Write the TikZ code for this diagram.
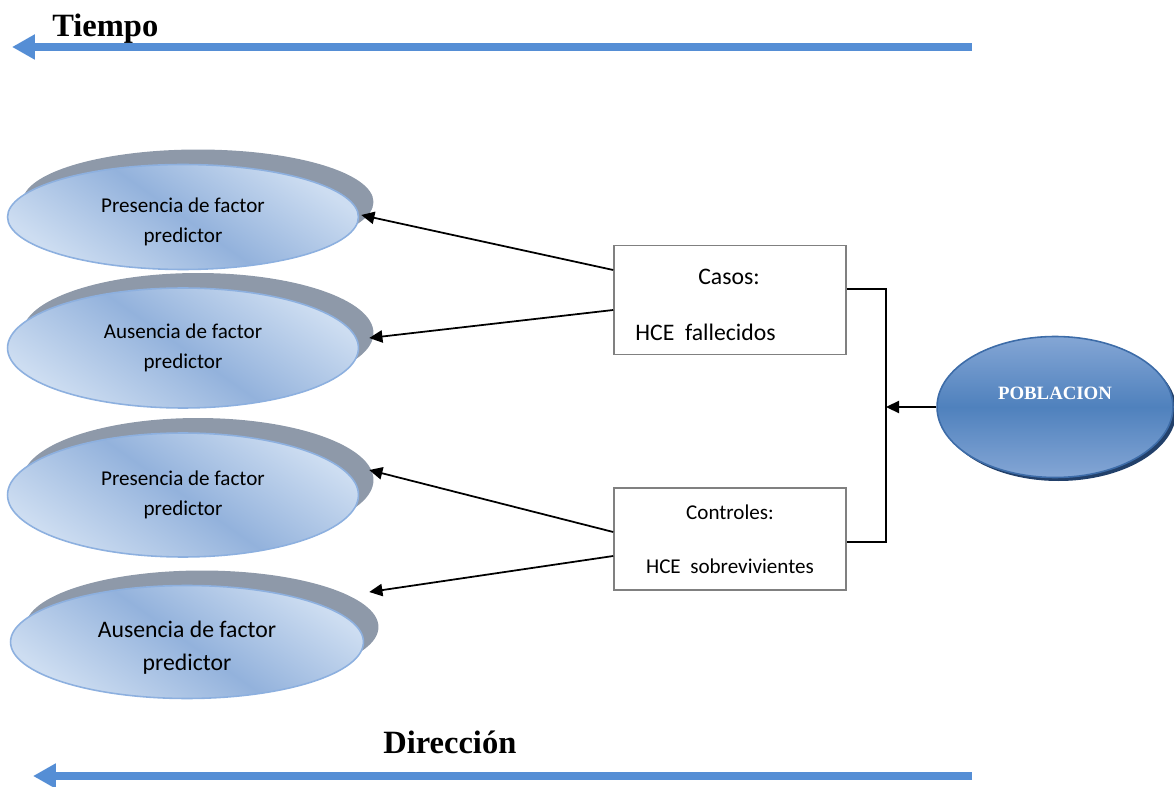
\documentclass[tikz,border=0pt]{standalone}
\usepackage{fontspec}
\setmainfont{Carlito}
\newfontfamily\serifbold{Liberation Serif}
\usepackage{tikz}
\usetikzlibrary{positioning, shapes.geometric, arrows.meta, calc, shadows}

\definecolor{flechaazul}{HTML}{558ED5}
\definecolor{elclaro}{HTML}{CDDDF1}
\definecolor{eloscuro}{HTML}{93B2DC}
\definecolor{elborde}{HTML}{8DB0DF}
\definecolor{sombra}{HTML}{8E99A9}
\definecolor{pobmedio}{HTML}{4F81BD}
\definecolor{pobclaro}{HTML}{84A6D5}
\definecolor{pobborde}{HTML}{3D6CA8}
\definecolor{pobsombra}{HTML}{22406A}

\begin{document}
\begin{tikzpicture}[
  x=0.02cm, y=-0.02cm,
  >={Triangle[length=7.5pt, width=7pt]},
  factor/.style={ellipse, draw=elborde, line width=0.9pt, inner sep=0pt, align=center,
    minimum width=7.02cm, font=\fontsize{12}{17}\selectfont,
    top color=elclaro, bottom color=elclaro, middle color=eloscuro, shading angle=-35,
    general shadow={shadow xshift=0.3cm, shadow yshift=0.3cm, fill=sombra}},
  caja/.style={draw=gray, line width=0.9pt, minimum width=4.64cm, align=center},
  titulo/.style={anchor=base west, inner sep=0pt, font=\serifbold\bfseries\fontsize{18.5}{20}\selectfont},
  tiempo/.style={draw=flechaazul, line width=4pt, -{Triangle[length=13pt, width=13.5pt]}},
  conector/.style={->, line width=1pt}
]
\useasboundingbox (0,0) rectangle (1174,787);

% Time and direction arrows
\coordinate (t1) at (972,47);
\coordinate (t0) at (12,47);
\draw[tiempo] (t1) -- (t0);
\node[titulo] (tiempo) at (52,37) {Tiempo};

\coordinate (d1) at (972,776);
\coordinate (d0) at (33,776);
\draw[tiempo] (d1) -- (d0);
\node[titulo] (direccion) at (383,753) {Dirección};

% Predictor ellipses
\node[factor, minimum height=2.1cm] (e1) at (183,217) {\rule{0pt}{14pt}Presencia de factor\\predictor};
\node[factor, minimum height=2.4cm] (e2) at (183,348) {Ausencia de factor\\predictor};
\node[factor, minimum height=2.48cm] (e3) at (183,495) {Presencia de factor\\predictor};
\node[factor, minimum height=2.26cm, minimum width=7.06cm, font=\fontsize{13.5}{18.7}\selectfont] (e4) at (187,642)
  {\rule{0pt}{16pt}Ausencia de factor\\predictor};

% Cases and controls
\node[caja, minimum height=2.18cm] (casos) at (730,300) {};
\node[font=\fontsize{13.5}{16}\selectfont] (casostit) at (729,277) {Casos:};
\node[anchor=base west, font=\fontsize{13.5}{16}\selectfont, inner sep=0pt] (casostxt) at (635,341) {HCE\ \ fallecidos};
\node[caja, minimum height=2.04cm, font=\fontsize{12}{14}\selectfont] (controles) at (730,539)
  {Controles:\\[17pt]HCE\ \ sobrevivientes};

% Population
\node[ellipse, draw=pobborde, line width=0.9pt, minimum width=4.72cm, minimum height=2.82cm,
  top color=pobclaro, bottom color=pobclaro, middle color=pobmedio,
  general shadow={shadow xshift=2pt, shadow yshift=-2pt, fill=pobsombra}] (pob) at (1055,407) {};
\node[text=white, font=\serifbold\bfseries\fontsize{10.7}{12}\selectfont] (pobtxt) at (1055,393) {POBLACION};

% Connectors
\draw[conector] ($(casos.west)+(0,-30)$) -- ($(e1.east)+(2,-2)$);
\draw[conector] ($(casos.west)+(0,10)$) -- ($(e2.east)+(10,-10)$);
\draw[conector] ($(controles.west)+(0,-7)$) -- ($(e3.east)+(10,-25)$);
\draw[conector] ($(controles.west)+(0,17)$) -- ($(e4.east)+(5,-50)$);

\coordinate (bus) at (886,407);
\draw[line width=1pt] ($(casos.east)+(0,-11)$) -| (bus) |- ($(controles.east)+(0,3)$);
\draw[conector] (pob.west) -- (bus);

\end{tikzpicture}
\end{document}
